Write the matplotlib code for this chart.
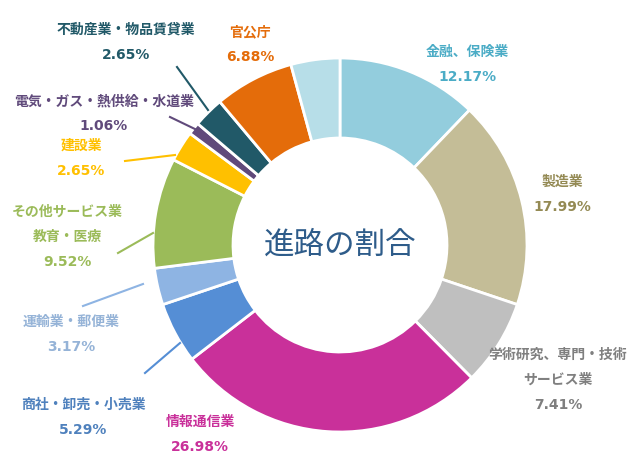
import matplotlib.pyplot as plt

plt.rcParams['font.family'] = ['Noto Sans CJK JP', 'DejaVu Sans']

# --- Data ---
labels = ['金融、保険業', '製造業', '学術研究、専門・技術\nサービス業', '情報通信業',
          '商社・卸売・小売業', '運輸業・郵便業', 'その他サービス業\n教育・医療', '建設業',
          '電気・ガス・熱供給・水道業', '不動産業・物品賃貸業', '官公庁', '']
shares = [12.17, 17.99, 7.41, 26.98, 5.29, 3.17, 9.52, 2.65, 1.06, 2.65, 6.88, 4.23]
wedge_colors = ['#93CDDD', '#C4BD97', '#BFBFBF', '#C9309A', '#558ED5', '#8EB4E3',
                '#9BBB59', '#FFC000', '#604A7B', '#215968', '#E46C0A', '#B7DEE8']
text_colors = ['#4BACC6', '#948A54', '#7F7F7F', '#C9309A', '#4F81BD', '#95B3D7',
               '#9BBB59', '#FFC000', '#604A7B', '#215968', '#E46C0A', None]

# label x and top-line y (pixel coords, y from top), leader lines
label_pos = [(467, 52), (562, 182), (558, 355), (200, 422), (83, 405), (71, 322),
             (67, 212), (81, 146), (104, 101), (126, 30), (250, 32), None]
leaders = {4: ((145, 373), (180, 343)), 5: ((83, 306), (143, 284)),
           6: ((118, 253), (153, 233)), 7: ((125, 161), (175, 155)),
           8: ((170, 117), (197, 130)), 9: ((177, 67), (208, 110))}
line_gap = 25

W, H = 642, 463
fig = plt.figure(figsize=(W / 100, H / 100), dpi=100)
ax = fig.add_axes([0, 0, 1, 1])

cx, cy, r = 340, H - 245, 187
ax.pie(shares, colors=wedge_colors, startangle=90, counterclock=False,
       center=(cx, cy), radius=r, frame=True,
       wedgeprops=dict(width=80, edgecolor='white', linewidth=2))
ax.set_xlim(0, W)
ax.set_ylim(0, H)
ax.set_aspect('equal')
ax.axis('off')

for i, (lab, val) in enumerate(zip(labels, shares)):
    if label_pos[i] is None:
        continue
    x, y = label_pos[i]
    for j, line in enumerate(lab.split('\n')):
        ax.text(x, H - y - j * line_gap, line, color=text_colors[i], fontsize=10,
                fontweight='bold', ha='center', va='center')
    n = len(lab.split('\n'))
    ax.text(x, H - y - n * line_gap, f'{val:.2f}%', color=text_colors[i],
            fontsize=10, fontweight='bold', family='DejaVu Sans',
            ha='center', va='center')
    if i in leaders:
        (x0, y0), (x1, y1) = leaders[i]
        ax.plot([x0, x1], [H - y0, H - y1], color=wedge_colors[i], lw=1.5)

ax.text(cx, cy, '進路の割合', color='#2E5C8A', fontsize=22,
        ha='center', va='center')

fig.savefig('out.png', dpi=100)
